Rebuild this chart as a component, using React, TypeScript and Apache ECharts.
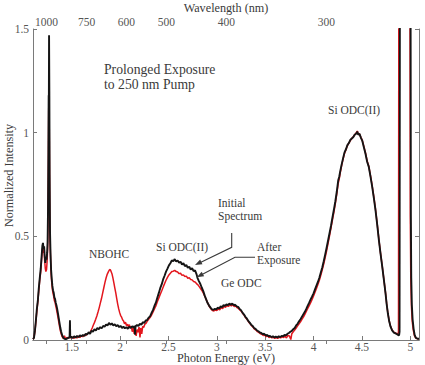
import React, { useEffect, useRef } from "react";
import * as echarts from "echarts";

// Photoluminescence spectra: [photon energy (eV), normalized intensity]
const initialSpectrum: [number, number][] = [
  [1.1, 0.004], [1.11, 0.01], [1.12, 0.045], [1.13, 0.095], [1.14, 0.15], [1.15, 0.19],
  [1.16, 0.25], [1.17, 0.3], [1.18, 0.345], [1.19, 0.41], [1.197, 0.455], [1.203, 0.468],
  [1.209, 0.44], [1.215, 0.452], [1.221, 0.405], [1.227, 0.372], [1.233, 0.395], [1.24, 0.388],
  [1.246, 0.42], [1.251, 0.47], [1.255, 0.62], [1.259, 0.9], [1.262, 1.18], [1.264, 1.15],
  [1.266, 1.47], [1.269, 1.2], [1.272, 0.8], [1.276, 0.52], [1.281, 0.42], [1.287, 0.34],
  [1.293, 0.3], [1.3, 0.262], [1.307, 0.24], [1.314, 0.228], [1.321, 0.205], [1.328, 0.198],
  [1.335, 0.18], [1.342, 0.168], [1.35, 0.15], [1.358, 0.128], [1.366, 0.105], [1.374, 0.082],
  [1.382, 0.06], [1.39, 0.042], [1.398, 0.028], [1.406, 0.018], [1.415, 0.01], [1.425, 0.006],
  [1.44, 0.004], [1.455, 0.008], [1.47, 0.012], [1.478, 0.01], [1.482, 0.095], [1.485, 0.012],
  [1.495, 0.015], [1.51, 0.01], [1.525, 0.018], [1.54, 0.012], [1.555, 0.02], [1.57, 0.014],
  [1.585, 0.022], [1.6, 0.018], [1.615, 0.024], [1.63, 0.02], [1.645, 0.03], [1.66, 0.026],
  [1.675, 0.038], [1.69, 0.03], [1.705, 0.045], [1.72, 0.04], [1.735, 0.052], [1.75, 0.046],
  [1.765, 0.058], [1.78, 0.052], [1.795, 0.062], [1.81, 0.056], [1.825, 0.068], [1.84, 0.064],
  [1.855, 0.075], [1.87, 0.07], [1.885, 0.082], [1.9, 0.074], [1.915, 0.08], [1.93, 0.07],
  [1.945, 0.076], [1.96, 0.066], [1.975, 0.072], [1.99, 0.062], [2.005, 0.068], [2.02, 0.058],
  [2.035, 0.064], [2.05, 0.056], [2.065, 0.062], [2.08, 0.054], [2.095, 0.064], [2.11, 0.058],
  [2.125, 0.066], [2.14, 0.06], [2.15, 0.068], [2.155, 0.025], [2.16, 0.066], [2.175, 0.072],
  [2.19, 0.068], [2.205, 0.078], [2.22, 0.074], [2.235, 0.086], [2.25, 0.082], [2.265, 0.094],
  [2.28, 0.096], [2.295, 0.108], [2.31, 0.114], [2.325, 0.13], [2.34, 0.144], [2.355, 0.164],
  [2.37, 0.18], [2.385, 0.204], [2.4, 0.226], [2.415, 0.25], [2.43, 0.268], [2.445, 0.292],
  [2.46, 0.31], [2.475, 0.33], [2.49, 0.344], [2.505, 0.36], [2.52, 0.37], [2.535, 0.384],
  [2.55, 0.38], [2.565, 0.39], [2.58, 0.378], [2.595, 0.384], [2.61, 0.372], [2.625, 0.378],
  [2.64, 0.364], [2.655, 0.37], [2.67, 0.356], [2.685, 0.362], [2.7, 0.348], [2.715, 0.354],
  [2.73, 0.34], [2.745, 0.346], [2.76, 0.332], [2.775, 0.336], [2.79, 0.318], [2.8, 0.3],
  [2.815, 0.284], [2.83, 0.27], [2.845, 0.252], [2.86, 0.236], [2.875, 0.214], [2.89, 0.196],
  [2.905, 0.178], [2.92, 0.166], [2.935, 0.156], [2.95, 0.148], [2.965, 0.146], [2.98, 0.15],
  [2.995, 0.148], [3.01, 0.156], [3.025, 0.152], [3.04, 0.162], [3.055, 0.158], [3.07, 0.168],
  [3.085, 0.164], [3.1, 0.172], [3.115, 0.168], [3.13, 0.176], [3.145, 0.17], [3.16, 0.176],
  [3.175, 0.168], [3.19, 0.17], [3.205, 0.162], [3.22, 0.16], [3.235, 0.15], [3.25, 0.144],
  [3.265, 0.132], [3.28, 0.124], [3.295, 0.112], [3.31, 0.104], [3.325, 0.092], [3.34, 0.084],
  [3.355, 0.074], [3.37, 0.068], [3.385, 0.058], [3.4, 0.054], [3.415, 0.046], [3.43, 0.042],
  [3.445, 0.036], [3.46, 0.034], [3.475, 0.028], [3.49, 0.03], [3.505, 0.022], [3.52, 0.024],
  [3.535, 0.018], [3.55, 0.02], [3.565, 0.014], [3.58, 0.018], [3.595, 0.012], [3.61, 0.016],
  [3.625, 0.012], [3.64, 0.018], [3.655, 0.014], [3.67, 0.02], [3.685, 0.018], [3.7, 0.024],
  [3.715, 0.022], [3.73, 0.03], [3.745, 0.034], [3.76, 0.04], [3.775, 0.044], [3.79, 0.052],
  [3.805, 0.058], [3.82, 0.07], [3.835, 0.078], [3.85, 0.09], [3.865, 0.1], [3.88, 0.112],
  [3.895, 0.124], [3.91, 0.136], [3.925, 0.15], [3.94, 0.166], [3.955, 0.18], [3.97, 0.196],
  [3.985, 0.21], [4.0, 0.225], [4.015, 0.244], [4.03, 0.262], [4.045, 0.28], [4.06, 0.3],
  [4.075, 0.326], [4.09, 0.35], [4.105, 0.38], [4.12, 0.412], [4.135, 0.445], [4.15, 0.48],
  [4.165, 0.515], [4.18, 0.55], [4.195, 0.59], [4.21, 0.628], [4.225, 0.668], [4.24, 0.715],
  [4.255, 0.77], [4.265, 0.786], [4.275, 0.812], [4.29, 0.846], [4.305, 0.876], [4.32, 0.905],
  [4.335, 0.92], [4.35, 0.94], [4.365, 0.95], [4.38, 0.965], [4.395, 0.972], [4.41, 0.978],
  [4.425, 0.99], [4.44, 0.995], [4.452, 1.005], [4.462, 0.99], [4.475, 0.994], [4.49, 0.975],
  [4.503, 0.962], [4.52, 0.93], [4.537, 0.898], [4.554, 0.86], [4.571, 0.835], [4.588, 0.79],
  [4.606, 0.74], [4.623, 0.686], [4.64, 0.628], [4.658, 0.556], [4.675, 0.483], [4.692, 0.418],
  [4.71, 0.354], [4.727, 0.29], [4.744, 0.225], [4.756, 0.172], [4.768, 0.129], [4.782, 0.09],
  [4.796, 0.064], [4.812, 0.046], [4.83, 0.036], [4.847, 0.032], [4.862, 0.028], [4.875, 0.024],
  [4.884, 0.022], [4.889, 0.04], [4.893, 2.0], [4.95, 3.0], [5.002, 2.0], [5.006, 0.6],
  [5.01, 0.3], [5.016, 0.17], [5.024, 0.1], [5.034, 0.055], [5.045, 0.025], [5.058, 0.01],
  [5.075, 0.006], [5.09, 0.006],
];

const afterExposure: [number, number][] = [
  [1.1, 0.004], [1.11, 0.012], [1.12, 0.04], [1.13, 0.09], [1.14, 0.14], [1.15, 0.185],
  [1.16, 0.24], [1.17, 0.29], [1.18, 0.33], [1.19, 0.395], [1.197, 0.44], [1.203, 0.45],
  [1.209, 0.42], [1.215, 0.43], [1.221, 0.38], [1.227, 0.345], [1.233, 0.33], [1.24, 0.34],
  [1.246, 0.38], [1.251, 0.44], [1.255, 0.58], [1.259, 0.85], [1.262, 1.1], [1.265, 1.2],
  [1.268, 1.05], [1.272, 0.72], [1.276, 0.48], [1.281, 0.4], [1.287, 0.32], [1.293, 0.28],
  [1.3, 0.245], [1.307, 0.225], [1.314, 0.21], [1.321, 0.19], [1.328, 0.182], [1.335, 0.165],
  [1.342, 0.15], [1.35, 0.13], [1.358, 0.11], [1.366, 0.088], [1.374, 0.066], [1.382, 0.046],
  [1.39, 0.032], [1.398, 0.02], [1.406, 0.012], [1.415, 0.008], [1.425, 0.02], [1.435, 0.006],
  [1.45, 0.012], [1.465, 0.008], [1.48, 0.016], [1.495, 0.01], [1.51, 0.014], [1.525, 0.008],
  [1.54, 0.016], [1.555, 0.01], [1.57, 0.018], [1.585, 0.012], [1.6, 0.02], [1.615, 0.016],
  [1.63, 0.024], [1.645, 0.022], [1.66, 0.03], [1.675, 0.032], [1.69, 0.036], [1.7, 0.046],
  [1.712, 0.058], [1.724, 0.072], [1.736, 0.085], [1.748, 0.1], [1.76, 0.116], [1.772, 0.135],
  [1.784, 0.155], [1.796, 0.178], [1.808, 0.2], [1.82, 0.226], [1.832, 0.252], [1.844, 0.278],
  [1.856, 0.3], [1.868, 0.318], [1.88, 0.33], [1.89, 0.338], [1.898, 0.34], [1.906, 0.332],
  [1.916, 0.32], [1.926, 0.3], [1.936, 0.276], [1.946, 0.25], [1.956, 0.226], [1.966, 0.198],
  [1.976, 0.172], [1.986, 0.15], [1.996, 0.132], [2.006, 0.118], [2.016, 0.11], [2.026, 0.098],
  [2.036, 0.092], [2.046, 0.078], [2.056, 0.086], [2.066, 0.07], [2.076, 0.076], [2.086, 0.064],
  [2.096, 0.074], [2.106, 0.058], [2.116, 0.066], [2.126, 0.04], [2.136, 0.06], [2.146, 0.03],
  [2.156, 0.056], [2.166, 0.02], [2.176, 0.05], [2.186, 0.038], [2.196, 0.062], [2.206, 0.012],
  [2.214, 0.058], [2.224, 0.03], [2.234, 0.066], [2.244, 0.06], [2.256, 0.076], [2.268, 0.08],
  [2.28, 0.09], [2.295, 0.1], [2.31, 0.108], [2.325, 0.12], [2.34, 0.134], [2.355, 0.15],
  [2.37, 0.164], [2.385, 0.184], [2.4, 0.202], [2.415, 0.22], [2.43, 0.236], [2.445, 0.254],
  [2.46, 0.272], [2.475, 0.288], [2.49, 0.302], [2.505, 0.314], [2.52, 0.322], [2.535, 0.33],
  [2.55, 0.332], [2.565, 0.336], [2.58, 0.33], [2.595, 0.328], [2.61, 0.32], [2.625, 0.322],
  [2.64, 0.312], [2.655, 0.314], [2.67, 0.306], [2.685, 0.308], [2.7, 0.298], [2.715, 0.3],
  [2.73, 0.292], [2.745, 0.29], [2.76, 0.282], [2.775, 0.28], [2.79, 0.272], [2.805, 0.266],
  [2.82, 0.256], [2.835, 0.246], [2.85, 0.236], [2.865, 0.222], [2.88, 0.206], [2.895, 0.19],
  [2.91, 0.174], [2.925, 0.16], [2.94, 0.15], [2.955, 0.142], [2.97, 0.14], [2.985, 0.144],
  [3.0, 0.142], [3.015, 0.15], [3.03, 0.146], [3.045, 0.156], [3.06, 0.152], [3.075, 0.162],
  [3.09, 0.158], [3.105, 0.166], [3.12, 0.162], [3.135, 0.17], [3.15, 0.164], [3.165, 0.17],
  [3.18, 0.162], [3.195, 0.164], [3.21, 0.156], [3.225, 0.152], [3.24, 0.144], [3.255, 0.138],
  [3.27, 0.126], [3.285, 0.118], [3.3, 0.106], [3.315, 0.098], [3.33, 0.086], [3.345, 0.078],
  [3.36, 0.068], [3.375, 0.062], [3.39, 0.052], [3.405, 0.048], [3.42, 0.04], [3.435, 0.036],
  [3.45, 0.03], [3.465, 0.028], [3.48, 0.022], [3.495, 0.024], [3.51, 0.016], [3.525, 0.02],
  [3.54, 0.012], [3.555, 0.016], [3.57, 0.01], [3.585, 0.014], [3.6, 0.008], [3.615, 0.012],
  [3.63, 0.008], [3.645, 0.014], [3.66, 0.01], [3.675, 0.016], [3.69, 0.012], [3.705, 0.018],
  [3.72, 0.01], [3.735, 0.022], [3.75, 0.02], [3.765, 0.002], [3.775, 0.03], [3.79, 0.04],
  [3.805, 0.048], [3.82, 0.058], [3.835, 0.068], [3.85, 0.078], [3.865, 0.088], [3.88, 0.1],
  [3.895, 0.11], [3.91, 0.124], [3.925, 0.138], [3.94, 0.152], [3.955, 0.166], [3.97, 0.18],
  [3.985, 0.196], [4.0, 0.212], [4.015, 0.23], [4.03, 0.248], [4.045, 0.268], [4.06, 0.288],
  [4.075, 0.312], [4.09, 0.338], [4.105, 0.366], [4.12, 0.398], [4.135, 0.43], [4.15, 0.466],
  [4.165, 0.502], [4.18, 0.54], [4.195, 0.578], [4.21, 0.616], [4.225, 0.658], [4.24, 0.704],
  [4.255, 0.756], [4.265, 0.776], [4.275, 0.804], [4.29, 0.84], [4.305, 0.872], [4.32, 0.9],
  [4.335, 0.918], [4.35, 0.938], [4.365, 0.95], [4.38, 0.962], [4.395, 0.972], [4.41, 0.98],
  [4.425, 0.99], [4.44, 0.998], [4.452, 1.008], [4.462, 0.992], [4.475, 0.994], [4.49, 0.976],
  [4.503, 0.964], [4.52, 0.934], [4.537, 0.902], [4.554, 0.864], [4.571, 0.838], [4.588, 0.794],
  [4.606, 0.744], [4.623, 0.69], [4.64, 0.632], [4.658, 0.56], [4.675, 0.487], [4.692, 0.42],
  [4.71, 0.356], [4.727, 0.292], [4.744, 0.227], [4.756, 0.174], [4.768, 0.131], [4.782, 0.092],
  [4.796, 0.066], [4.812, 0.048], [4.83, 0.038], [4.847, 0.034], [4.862, 0.03], [4.872, 0.028],
  [4.878, 0.04], [4.882, 2.0], [4.94, 3.0], [4.996, 2.0], [5.0, 0.6], [5.005, 0.3],
  [5.012, 0.16], [5.02, 0.09], [5.03, 0.05], [5.042, 0.022], [5.055, 0.01], [5.075, 0.006],
  [5.09, 0.006],
];

// Axis ticks
const energyTicks = [1.5, 2, 2.5, 3, 3.5, 4, 4.5, 5];
const wavelengthTicks = [1000, 750, 600, 500, 400, 300]; // nm
const HC = 1239.84; // eV·nm

const FONT = "Liberation Serif";
const AXIS_GRAY = "#7a7a7a";
const LABEL_GRAY = "#555";
const TEXT_DARK = "#3a3a3a";

function arrow(x1: number, y1: number, x2: number, y2: number, pts: [number, number][]) {
  // polyline through pts ending at (x2,y2) with a filled head
  const dx = x2 - x1;
  const dy = y2 - y1;
  const len = Math.hypot(dx, dy);
  const ux = dx / len;
  const uy = dy / len;
  const hl = 7;
  const hw = 2.6;
  const bx = x2 - ux * hl;
  const by = y2 - uy * hl;
  return [
    {
      type: "polyline",
      shape: { points: [...pts, [bx + ux * 1, by + uy * 1]] },
      style: { stroke: TEXT_DARK, lineWidth: 1.1, fill: "none" },
      z: 100,
    },
    {
      type: "polygon",
      shape: {
        points: [
          [x2, y2],
          [bx - uy * hw, by + ux * hw],
          [bx + uy * hw, by - ux * hw],
        ],
      },
      style: { fill: TEXT_DARK },
      z: 100,
    },
  ];
}

function label(text: string, x: number, y: number, size = 11.5) {
  return {
    type: "text",
    z: 100,
    style: {
      text,
      x,
      y,
      font: `${size}px "${FONT}", serif`,
      fill: TEXT_DARK,
      textVerticalAlign: "middle",
      textAlign: "left",
    },
  };
}

export default function App() {
  const ref = useRef<HTMLDivElement>(null);

  useEffect(() => {
    if (!ref.current) return;
    const chart = echarts.init(ref.current, undefined, { renderer: "svg" });

    const xMin = 1.1;
    const xMax = 5.09;
    const wlEnergies = wavelengthTicks.map((nm) => HC / nm);

    const axisLine = { show: true, lineStyle: { color: AXIS_GRAY, width: 1 } };
    const tick = { inside: true, length: 4, lineStyle: { color: AXIS_GRAY } };
    const tickLabel = { color: LABEL_GRAY, fontFamily: FONT, fontSize: 11.5, lineHeight: 11 };
    const nameStyle = { color: TEXT_DARK, fontFamily: FONT, fontSize: 12.2, lineHeight: 12 };

    chart.setOption({
      animation: false,
      backgroundColor: "#fff",
      textStyle: { fontFamily: FONT },
      grid: {
        left: 33,
        right: 6,
        top: 29,
        bottom: 25,
        containLabel: false,
        outerBoundsMode: "none",
      },
      xAxis: [
        {
          type: "value",
          position: "bottom",
          min: xMin,
          max: xMax,
          name: "Photon Energy (eV)",
          nameLocation: "middle",
          nameGap: 12,
          nameMoveOverlap: false,
          nameTextStyle: nameStyle,
          axisLine,
          axisTick: { ...tick, customValues: energyTicks },
          axisLabel: {
            ...tickLabel,
            margin: 1,
            customValues: energyTicks,
            formatter: (v: number) => String(v),
          },
          splitLine: { show: false },
        },
        {
          type: "value",
          position: "top",
          min: xMin,
          max: xMax,
          name: "Wavelength (nm)",
          nameLocation: "middle",
          nameGap: 15,
          nameMoveOverlap: false,
          nameTextStyle: nameStyle,
          axisLine,
          axisTick: { ...tick, customValues: wlEnergies },
          axisLabel: {
            ...tickLabel,
            margin: 2,
            customValues: wlEnergies,
            formatter: (v: number) => String(Math.round(HC / v)),
          },
          splitLine: { show: false },
        },
      ],
      yAxis: [
        {
          type: "value",
          position: "left",
          min: 0,
          max: 1.5,
          interval: 0.5,
          name: "Normalized Intensity",
          nameLocation: "middle",
          nameGap: 18,
          nameMoveOverlap: false,
          nameTextStyle: { ...nameStyle, padding: [0, 0, 0, 18] },
          axisLine,
          axisTick: tick,
          axisLabel: { ...tickLabel, margin: 4 },
          splitLine: { show: false },
        },
        {
          type: "value",
          position: "right",
          min: 0,
          max: 1.5,
          interval: 0.5,
          axisLine,
          axisTick: tick,
          axisLabel: { show: false },
          splitLine: { show: false },
        },
      ],
      series: [
        {
          name: "After Exposure",
          type: "line",
          data: afterExposure,
          showSymbol: false,
          symbol: "none",
          clip: true,
          lineStyle: { color: "#e3161d", width: 1.5 },
          z: 2,
        },
        {
          name: "Initial Spectrum",
          type: "line",
          data: initialSpectrum,
          showSymbol: false,
          symbol: "none",
          clip: true,
          lineStyle: { color: "#151515", width: 1.9 },
          z: 3,
        },
      ],
      graphic: [
        label("Prolonged Exposure", 104, 69, 13.7),
        label("to 250 nm Pump", 104, 84, 13.7),
        label("Si ODC(II)", 328, 110),
        label("Initial", 218, 203),
        label("Spectrum", 218, 216),
        label("Si ODC(II)", 156, 247),
        label("After", 257, 246.5),
        label("Exposure", 257, 259.5),
        label("NBOHC", 89, 254),
        label("Ge ODC", 221, 283),
        ...arrow(231.7, 247.3, 195, 265, [
          [231.7, 233],
          [231.7, 247.3],
        ]),
        ...arrow(235, 257.3, 196.7, 277.3, [
          [255, 257.3],
          [235, 257.3],
        ]),
      ],
    });

    return () => chart.dispose();
  }, []);

  return (
    <div
      ref={ref}
      style={{ position: "fixed", left: 0, top: 0, width: 425, height: 365, background: "#fff" }}
    />
  );
}
